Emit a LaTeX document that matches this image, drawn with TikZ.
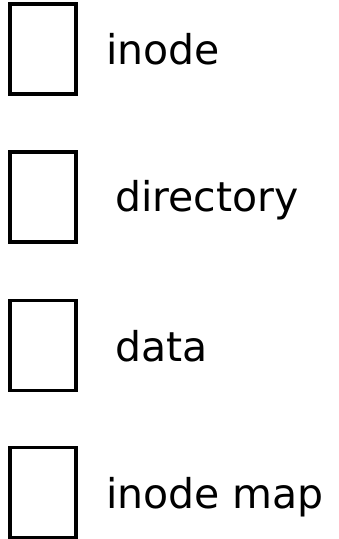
\documentclass[tikz,border=0pt]{standalone}
\usepackage{fontspec}
\setmainfont{DejaVu Sans}
\begin{document}
\begin{tikzpicture}[x=1pt,y=-1pt,
  legbox/.style={draw=black, line width=3.7pt, minimum width=66pt, minimum height=90pt, inner sep=0pt, fill=white},
  legtext/.style={anchor=base west, inner sep=0pt, font=\fontsize{41}{41}\selectfont}]
\useasboundingbox[fill=white] (0,0) rectangle (339,539);
\node[legbox] (b1) at (43,49) {};
\node[legbox] (b2) at (43,197) {};
\node[legbox] (b3) at (43,345.5) {};
\node[legbox] (b4) at (43,492.5) {};
\node[legtext] (t1) at (106,64) {inode};
\node[legtext] (t2) at (115,211.5) {directory};
\node[legtext] (t3) at (115,361.5) {data};
\node[legtext] (t4) at (106,508) {inode map};
\end{tikzpicture}
\end{document}
